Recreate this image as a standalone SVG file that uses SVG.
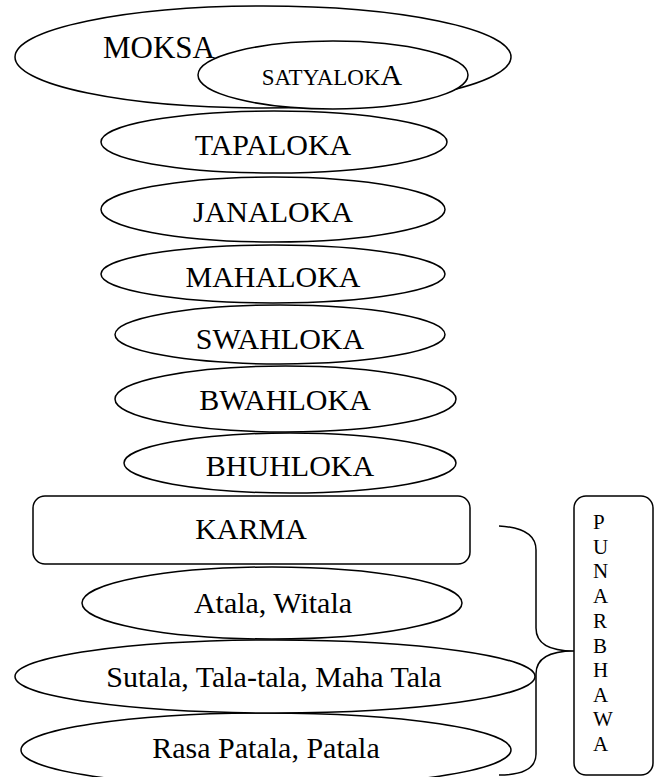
<svg xmlns="http://www.w3.org/2000/svg" width="662" height="777" viewBox="0 0 662 777">
<style>
.n{fill:#fff;stroke:#000;stroke-width:1.5}
.t{font-family:"Liberation Serif","Times New Roman",serif;font-size:30px;fill:#000;text-anchor:middle}
.v{font-family:"Liberation Serif","Times New Roman",serif;font-size:21px;fill:#000}
.c{fill:none;stroke:#000;stroke-width:1.5}
</style>
<rect width="662" height="777" fill="#fff"/>
<g id="moksa">
<ellipse class="n" cx="263" cy="57" rx="248" ry="51"/>
<text class="t" x="103" y="58" style="text-anchor:start;font-size:31px">MOKSA</text>
</g>
<g id="satyaloka">
<ellipse class="n" cx="333" cy="75" rx="135" ry="34"/>
<text class="t" x="332" y="85"><tspan style="font-size:23px">SATYALOK</tspan><tspan>A</tspan></text>
</g>
<g id="tapaloka">
<ellipse class="n" cx="274" cy="142" rx="173" ry="31"/>
<text class="t" x="273" y="155">TAPALOKA</text>
</g>
<g id="janaloka">
<ellipse class="n" cx="273" cy="209.5" rx="172" ry="32.5"/>
<text class="t" x="273" y="222">JANALOKA</text>
</g>
<g id="mahaloka">
<ellipse class="n" cx="273" cy="274" rx="172" ry="29"/>
<text class="t" x="273" y="287">MAHALOKA</text>
</g>
<g id="swahloka">
<ellipse class="n" cx="280" cy="334.5" rx="165" ry="29.5"/>
<text class="t" x="280" y="349">SWAHLOKA</text>
</g>
<g id="bwahloka">
<ellipse class="n" cx="285.5" cy="399" rx="170.5" ry="33"/>
<text class="t" x="285" y="410">BWAHLOKA</text>
</g>
<g id="bhuhloka">
<ellipse class="n" cx="290" cy="463" rx="166" ry="30"/>
<text class="t" x="290" y="476">BHUHLOKA</text>
</g>
<g id="karma">
<rect class="n" x="33" y="496" width="437" height="68" rx="12"/>
<text class="t" x="251" y="539">KARMA</text>
</g>
<g id="atala">
<ellipse class="n" cx="272" cy="603" rx="190" ry="36"/>
<text class="t" x="273" y="613">Atala, Witala</text>
</g>
<g id="rasa">
<ellipse class="n" cx="266" cy="750" rx="245" ry="37"/>
<text class="t" x="266" y="758">Rasa Patala, Patala</text>
</g>
<g id="sutala">
<ellipse class="n" cx="275" cy="676.5" rx="260" ry="36.5"/>
<text class="t" x="274" y="687">Sutala, Tala-tala, Maha Tala</text>
</g>
<g id="punarbhawa">
<rect class="n" x="574" y="496" width="79" height="279" rx="12"/>
<text class="v" x="593" y="529">P</text>
<text class="v" x="593" y="554">U</text>
<text class="v" x="593" y="578">N</text>
<text class="v" x="593" y="603">A</text>
<text class="v" x="593" y="628">R</text>
<text class="v" x="593" y="653">B</text>
<text class="v" x="593" y="677">H</text>
<text class="v" x="593" y="702">A</text>
<text class="v" x="593" y="726">W</text>
<text class="v" x="593" y="751">A</text>
</g>
<g id="connectors">
<path class="c" d="M499 526 Q536 528 536 550 L536 628 Q536 651 574 651 Q536 651 536 674 L536 754 Q536 775 499 775"/>
</g>
</svg>
